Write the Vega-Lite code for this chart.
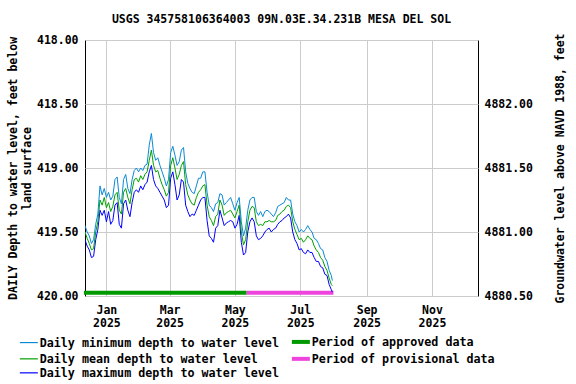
{
"$schema": "https://vega.github.io/schema/vega-lite/v6.json",
"width": 393, "height": 256,
"autosize": "none",
"padding": {"left": 85, "top": 40, "right": 98, "bottom": 88},
"background": "white",
"config": {
  "font": "DejaVu Sans Mono",
  "view": {"stroke": "black", "strokeWidth": 1},
  "axis": {"labelFont": "DejaVu Sans Mono", "labelFontWeight": "bold", "labelFontSize": 11.5, "labelColor": "black", "titleFont": "DejaVu Sans Mono", "titleFontWeight": "bold", "titleFontSize": 11.5, "titleColor": "black", "gridColor": "#cccccc", "gridWidth": 1, "domain": false, "ticks": false},
  "legend": {"labelFont": "DejaVu Sans Mono", "labelFontWeight": "bold", "labelFontSize": 11.7, "labelColor": "black"}
},
"title": {"text": "USGS 345758106364003 09N.03E.34.231B MESA DEL SOL", "font": "DejaVu Sans Mono", "fontSize": 11.5, "fontWeight": "bold", "color": "black", "anchor": "middle", "offset": 7},
"datasets": {
  "levels": [
{"d":"2024-12-12","mn":419.45,"me":419.50,"mx":419.56},
{"d":"2024-12-14","mn":419.50,"me":419.55,"mx":419.61},
{"d":"2024-12-16","mn":419.53,"me":419.59,"mx":419.64},
{"d":"2024-12-18","mn":419.59,"me":419.64,"mx":419.70},
{"d":"2024-12-20","mn":419.56,"me":419.63,"mx":419.69},
{"d":"2024-12-22","mn":419.44,"me":419.50,"mx":419.56},
{"d":"2024-12-24","mn":419.36,"me":419.42,"mx":419.48},
{"d":"2024-12-26","mn":419.14,"me":419.25,"mx":419.33},
{"d":"2024-12-28","mn":419.21,"me":419.29,"mx":419.37},
{"d":"2024-12-30","mn":419.16,"me":419.23,"mx":419.33},
{"d":"2025-01-01","mn":419.23,"me":419.31,"mx":419.42},
{"d":"2025-01-03","mn":419.19,"me":419.27,"mx":419.34},
{"d":"2025-01-05","mn":419.25,"me":419.34,"mx":419.44},
{"d":"2025-01-07","mn":419.22,"me":419.30,"mx":419.41},
{"d":"2025-01-09","mn":419.09,"me":419.21,"mx":419.29},
{"d":"2025-01-11","mn":419.07,"me":419.19,"mx":419.27},
{"d":"2025-01-13","mn":419.23,"me":419.33,"mx":419.44},
{"d":"2025-01-15","mn":419.28,"me":419.36,"mx":419.47},
{"d":"2025-01-17","mn":419.09,"me":419.19,"mx":419.28},
{"d":"2025-01-19","mn":419.05,"me":419.16,"mx":419.25},
{"d":"2025-01-21","mn":419.16,"me":419.23,"mx":419.33},
{"d":"2025-01-23","mn":419.20,"me":419.28,"mx":419.38},
{"d":"2025-01-25","mn":419.09,"me":419.17,"mx":419.27},
{"d":"2025-01-27","mn":419.02,"me":419.09,"mx":419.19},
{"d":"2025-01-29","mn":419.00,"me":419.08,"mx":419.17},
{"d":"2025-01-31","mn":419.03,"me":419.11,"mx":419.19},
{"d":"2025-02-02","mn":419.00,"me":419.06,"mx":419.14},
{"d":"2025-02-04","mn":419.02,"me":419.09,"mx":419.17},
{"d":"2025-02-06","mn":418.98,"me":419.05,"mx":419.13},
{"d":"2025-02-08","mn":418.97,"me":419.03,"mx":419.11},
{"d":"2025-02-10","mn":418.82,"me":418.94,"mx":419.03},
{"d":"2025-02-12","mn":418.73,"me":418.86,"mx":418.98},
{"d":"2025-02-14","mn":418.88,"me":418.98,"mx":419.09},
{"d":"2025-02-16","mn":418.94,"me":419.03,"mx":419.14},
{"d":"2025-02-18","mn":418.92,"me":419.02,"mx":419.16},
{"d":"2025-02-20","mn":418.98,"me":419.08,"mx":419.19},
{"d":"2025-02-22","mn":419.03,"me":419.13,"mx":419.22},
{"d":"2025-02-24","mn":419.08,"me":419.17,"mx":419.25},
{"d":"2025-02-26","mn":419.14,"me":419.22,"mx":419.31},
{"d":"2025-02-28","mn":419.09,"me":419.19,"mx":419.29},
{"d":"2025-03-02","mn":418.88,"me":418.98,"mx":419.08},
{"d":"2025-03-04","mn":418.83,"me":418.92,"mx":419.03},
{"d":"2025-03-06","mn":418.90,"me":419.00,"mx":419.13},
{"d":"2025-03-08","mn":418.98,"me":419.09,"mx":419.25},
{"d":"2025-03-10","mn":418.95,"me":419.05,"mx":419.21},
{"d":"2025-03-12","mn":418.86,"me":418.98,"mx":419.09},
{"d":"2025-03-14","mn":418.84,"me":418.95,"mx":419.11},
{"d":"2025-03-16","mn":419.03,"me":419.13,"mx":419.29},
{"d":"2025-03-18","mn":419.12,"me":419.21,"mx":419.34},
{"d":"2025-03-20","mn":419.16,"me":419.25,"mx":419.38},
{"d":"2025-03-22","mn":419.19,"me":419.28,"mx":419.36},
{"d":"2025-03-24","mn":419.20,"me":419.29,"mx":419.37},
{"d":"2025-03-26","mn":419.14,"me":419.23,"mx":419.33},
{"d":"2025-03-28","mn":419.08,"me":419.19,"mx":419.29},
{"d":"2025-03-30","mn":419.08,"me":419.17,"mx":419.25},
{"d":"2025-04-01","mn":419.03,"me":419.14,"mx":419.23},
{"d":"2025-04-03","mn":419.03,"me":419.13,"mx":419.23},
{"d":"2025-04-05","mn":419.19,"me":419.29,"mx":419.41},
{"d":"2025-04-07","mn":419.29,"me":419.38,"mx":419.53},
{"d":"2025-04-09","mn":419.31,"me":419.41,"mx":419.55},
{"d":"2025-04-11","mn":419.34,"me":419.45,"mx":419.58},
{"d":"2025-04-13","mn":419.28,"me":419.38,"mx":419.47},
{"d":"2025-04-15","mn":419.27,"me":419.36,"mx":419.45},
{"d":"2025-04-17","mn":419.20,"me":419.25,"mx":419.33},
{"d":"2025-04-19","mn":419.21,"me":419.29,"mx":419.39},
{"d":"2025-04-21","mn":419.29,"me":419.37,"mx":419.45},
{"d":"2025-04-23","mn":419.27,"me":419.35,"mx":419.43},
{"d":"2025-04-25","mn":419.25,"me":419.34,"mx":419.42},
{"d":"2025-04-27","mn":419.23,"me":419.33,"mx":419.41},
{"d":"2025-04-29","mn":419.28,"me":419.36,"mx":419.42},
{"d":"2025-05-01","mn":419.33,"me":419.39,"mx":419.47},
{"d":"2025-05-03","mn":419.27,"me":419.34,"mx":419.44},
{"d":"2025-05-05","mn":419.23,"me":419.29,"mx":419.37},
{"d":"2025-05-07","mn":419.42,"me":419.50,"mx":419.58},
{"d":"2025-05-09","mn":419.53,"me":419.60,"mx":419.68},
{"d":"2025-05-11","mn":419.47,"me":419.56,"mx":419.66},
{"d":"2025-05-13","mn":419.33,"me":419.42,"mx":419.50},
{"d":"2025-05-15","mn":419.25,"me":419.33,"mx":419.42},
{"d":"2025-05-17","mn":419.23,"me":419.30,"mx":419.39},
{"d":"2025-05-19","mn":419.23,"me":419.31,"mx":419.42},
{"d":"2025-05-21","mn":419.34,"me":419.42,"mx":419.53},
{"d":"2025-05-23","mn":419.37,"me":419.45,"mx":419.56},
{"d":"2025-05-25","mn":419.34,"me":419.44,"mx":419.55},
{"d":"2025-05-27","mn":419.38,"me":419.45,"mx":419.53},
{"d":"2025-05-29","mn":419.34,"me":419.42,"mx":419.50},
{"d":"2025-05-31","mn":419.33,"me":419.42,"mx":419.48},
{"d":"2025-06-02","mn":419.34,"me":419.41,"mx":419.47},
{"d":"2025-06-04","mn":419.36,"me":419.42,"mx":419.50},
{"d":"2025-06-06","mn":419.38,"me":419.42,"mx":419.48},
{"d":"2025-06-08","mn":419.35,"me":419.41,"mx":419.47},
{"d":"2025-06-10","mn":419.30,"me":419.37,"mx":419.44},
{"d":"2025-06-12","mn":419.29,"me":419.36,"mx":419.42},
{"d":"2025-06-14","mn":419.28,"me":419.34,"mx":419.41},
{"d":"2025-06-16","mn":419.27,"me":419.33,"mx":419.39},
{"d":"2025-06-18","mn":419.23,"me":419.30,"mx":419.38},
{"d":"2025-06-20","mn":419.25,"me":419.29,"mx":419.36},
{"d":"2025-06-22","mn":419.25,"me":419.31,"mx":419.39},
{"d":"2025-06-24","mn":419.36,"me":419.42,"mx":419.50},
{"d":"2025-06-26","mn":419.42,"me":419.48,"mx":419.56},
{"d":"2025-06-28","mn":419.45,"me":419.52,"mx":419.59},
{"d":"2025-06-30","mn":419.50,"me":419.56,"mx":419.64},
{"d":"2025-07-02","mn":419.48,"me":419.55,"mx":419.63},
{"d":"2025-07-04","mn":419.50,"me":419.58,"mx":419.66},
{"d":"2025-07-06","mn":419.48,"me":419.56,"mx":419.67},
{"d":"2025-07-08","mn":419.45,"me":419.53,"mx":419.64},
{"d":"2025-07-10","mn":419.48,"me":419.55,"mx":419.66},
{"d":"2025-07-12","mn":419.50,"me":419.56,"mx":419.66},
{"d":"2025-07-14","mn":419.55,"me":419.61,"mx":419.70},
{"d":"2025-07-16","mn":419.56,"me":419.64,"mx":419.73},
{"d":"2025-07-18","mn":419.59,"me":419.66,"mx":419.73},
{"d":"2025-07-20","mn":419.63,"me":419.70,"mx":419.77},
{"d":"2025-07-22","mn":419.64,"me":419.72,"mx":419.78},
{"d":"2025-07-24","mn":419.70,"me":419.77,"mx":419.83},
{"d":"2025-07-26","mn":419.73,"me":419.80,"mx":419.84},
{"d":"2025-07-28","mn":419.80,"me":419.86,"mx":419.91},
{"d":"2025-07-30","mn":419.84,"me":419.91,"mx":419.95},
{"d":"2025-07-31","mn":419.88,"me":419.92,"mx":419.97}
  ],
  "periods": [
    {"start": "2024-12-11", "end": "2025-05-12", "s": "ap"},
    {"start": "2025-05-12", "end": "2025-08-01", "s": "pr"}
  ],
  "elev": [{"e": 4880.5}, {"e": 4882.5}]
},
"layer": [
  {
    "layer": [
      {
        "data": {"name": "periods"},
        "mark": {"type": "rule", "strokeWidth": 4},
        "encoding": {
          "x": {"field": "start", "type": "temporal", "scale": {"type": "utc", "domain": [{"year": 2024, "month": 12, "date": 12, "utc": true}, {"year": 2025, "month": 12, "date": 14, "utc": true}]}, "axis": {"title": null, "grid": true, "values": [{"year": 2025, "month": 1, "date": 1, "utc": true}, {"year": 2025, "month": 3, "date": 1, "utc": true}, {"year": 2025, "month": 5, "date": 1, "utc": true}, {"year": 2025, "month": 7, "date": 1, "utc": true}, {"year": 2025, "month": 9, "date": 1, "utc": true}, {"year": 2025, "month": 11, "date": 1, "utc": true}], "labelExpr": "[utcFormat(datum.value, '%b'), utcFormat(datum.value, '%Y')]", "labelLineHeight": 13, "labelPadding": 8}},
          "x2": {"field": "end"},
          "y": {"datum": 419.975, "type": "quantitative", "scale": {"domain": [418, 420], "reverse": true, "nice": false, "zero": false}, "axis": {"title": ["DAILY Depth to water level, feet below", "land surface"], "titleLineHeight": 14, "titlePadding": 4, "values": [418, 418.5, 419, 419.5, 420], "format": ".2f", "labelPadding": 7, "grid": true}},
          "color": {"field": "s", "type": "nominal"}
        }
      },
      {
        "data": {"name": "levels"},
        "transform": [{"fold": ["mx", "me", "mn"], "as": ["s", "v"]}],
        "mark": {"type": "line", "strokeWidth": 1, "clip": true},
        "encoding": {
          "x": {"field": "d", "type": "temporal", "scale": {"type": "utc", "domain": [{"year": 2024, "month": 12, "date": 12, "utc": true}, {"year": 2025, "month": 12, "date": 14, "utc": true}]}, "axis": {"title": null, "grid": true, "values": [{"year": 2025, "month": 1, "date": 1, "utc": true}, {"year": 2025, "month": 3, "date": 1, "utc": true}, {"year": 2025, "month": 5, "date": 1, "utc": true}, {"year": 2025, "month": 7, "date": 1, "utc": true}, {"year": 2025, "month": 9, "date": 1, "utc": true}, {"year": 2025, "month": 11, "date": 1, "utc": true}], "labelExpr": "[utcFormat(datum.value, '%b'), utcFormat(datum.value, '%Y')]", "labelLineHeight": 13, "labelPadding": 8}},
          "y": {"field": "v", "type": "quantitative", "scale": {"domain": [418, 420], "reverse": true, "nice": false, "zero": false}, "axis": {"title": ["DAILY Depth to water level, feet below", "land surface"], "titleLineHeight": 14, "titlePadding": 4, "values": [418, 418.5, 419, 419.5, 420], "format": ".2f", "labelPadding": 7, "grid": true}},
          "color": {"field": "s", "type": "nominal",
            "scale": {"domain": ["mn", "me", "mx", "ap", "pr"], "range": ["#0a8ad6", "#00a000", "#0000ff", "#009900", "#ee44dd"]},
            "legend": {"orient": "none", "legendX": -62, "legendY": 296, "columns": 2, "title": null, "padding": 0, "symbolType": "stroke", "symbolSize": 324, "symbolStrokeWidth": 1.2, "labelOffset": 5, "rowPadding": 0, "columnPadding": 4, "labelLimit": 400,
              "labelExpr": "datum.label == 'mn' ? 'Daily minimum depth to water level' : datum.label == 'me' ? 'Daily mean depth to water level' : datum.label == 'mx' ? 'Daily maximum depth to water level' : datum.label == 'ap' ? 'Period of approved data' : 'Period of provisional data'",
              "encode": {"symbols": {"update": {"strokeWidth": {"signal": "datum.value == 'ap' || datum.value == 'pr' ? 4 : 1.2"}}}}}
          },
          "order": {"field": "s"}
        }
      }
    ]
  },
  {
    "data": {"name": "elev"},
    "mark": {"type": "rule", "opacity": 0},
    "encoding": {
      "y": {"field": "e", "type": "quantitative", "scale": {"domain": [4880.5, 4882.5], "nice": false, "zero": false}, "axis": {"orient": "right", "title": "Groundwater level above NAVD 1988, feet", "titleAngle": -90, "titlePadding": 33, "values": [4880.5, 4881, 4881.5, 4882], "format": ".2f", "labelPadding": 6, "grid": false}}
    }
  }
],
"resolve": {"scale": {"y": "independent"}}
}
